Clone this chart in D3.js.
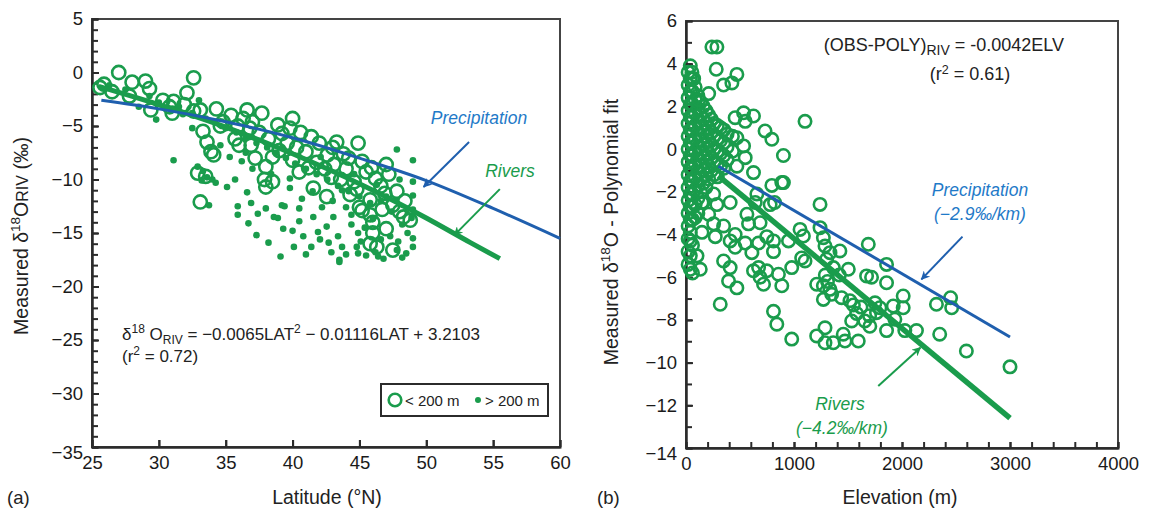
<!DOCTYPE html>
<html><head><meta charset="utf-8">
<script src="https://cdn.jsdelivr.net/npm/d3@7"></script>
<style>
html,body{margin:0;padding:0;background:#fff;}
svg{display:block;font-family:"Liberation Sans",Arial,sans-serif;}
</style></head>
<body>
<script>
// ---------- Panel (a) data ----------
const latTicks = [25,30,35,40,45,50,55,60];
const latMinor = [30,35,40,45,50,55];
const d18Ticks = [5,0,-5,-10,-15,-20,-25,-30,-35];
const d18Minor = d3.range(-35,6,1);
// open circles: sites < 200 m  [latitude, d18O]
const lowSites = [
 [25.9,-1.1],[25.6,-1.4],[27.0,0.0],[28.0,-0.9],[29.0,-0.8],[29.3,-1.5],[30.3,-2.6],[31.1,-2.7],
 [31.9,-3.0],[32.6,-0.5],[32.1,-1.9],[29.4,-3.5],[31.0,-3.8],[33.1,-3.5],[34.3,-3.4],[35.4,-4.0],
 [36.6,-3.5],[37.7,-3.8],[38.9,-4.9],[33.3,-5.5],[33.6,-6.5],[33.9,-7.4],[34.1,-7.7],[32.9,-9.4],
 [33.1,-12.1],[35.7,-6.2],[36.0,-6.8],[37.2,-8.0],[37.9,-10.0],[38.0,-10.7],[38.5,-7.9],
 [39.2,-5.7],[41.4,-6.0],[43.3,-6.5],[44.9,-6.6],[42.6,-7.7],[44.0,-9.0],[45.5,-9.3],[38.5,-10.2],
 [41.55,-10.8],[42.55,-11.6],[44.3,-11.4],[45.8,-11.9],[47.8,-11.1],[45.8,-13.3],[45.8,-16.0],
 [46.3,-16.3],[48.3,-13.5],[34.8,-4.6],[35.9,-5.0],[36.8,-5.2],[37.5,-5.6],[38.2,-6.2],[39.6,-6.6],
 [40.3,-7.0],[40.0,-8.2],[41.0,-7.4],[41.8,-8.4],[42.4,-9.0],[43.1,-8.6],[43.6,-10.0],[44.6,-10.2],
 [45.2,-8.3],[46.2,-9.9],[46.6,-10.6],[47.2,-9.5],[47.5,-12.4],[48.0,-13.0],[48.4,-12.0],[46.7,-12.8],
 [45.0,-12.6],[44.2,-8.0],[42.0,-6.6],[40.6,-5.6],[36.3,-4.3],[30.8,-3.2],[32.6,-3.6],[27.8,-2.2],
 [26.5,-1.8],[47.0,-14.6],[46.0,-15.0],[47.5,-16.6],[46.0,-14.0],[45.2,-12.9],[48.8,-13.8],[34.6,-5.0],
 [39.0,-7.3],[43.0,-7.0],[36.9,-6.8],[38.0,-8.8],[40.0,-4.3],[33.5,-9.7],[40.5,-9.3],[47.0,-8.6],
 [37.0,-4.6],[39.8,-5.2],[41.2,-8.9],[42.9,-9.8],[44.8,-10.9],[46.9,-11.3],[43.8,-7.6],[45.9,-8.9]
];
// filled dots: sites > 200 m  [latitude, d18O]
const highSites = [
 [31.1,-8.2],[35.1,-10.7],[35.7,-10.0],[36.6,-11.2],[36.9,-12.2],[35.9,-12.5],[35.9,-13.3],[36.7,-14.1],
 [37.4,-13.2],[38.0,-12.7],[38.9,-13.6],[39.2,-12.4],[33.75,-12.4],[34.25,-10.3],[32.9,-8.8],[33.3,-9.2],
 [33.6,-9.8],[34.0,-10.0],[33.2,-10.1],[29.8,-4.4],[28.5,-3.2],
 [47.8,-7.2],[49.0,-8.2],[49.0,-10.2],[49.0,-11.5],[49.0,-15.5],[49.0,-16.3],[39.8,-9.9],[39.8,-10.8],
 [38.6,-13.5],[39.4,-12.5],[39.3,-14.6],[40.1,-16.3],[40.8,-15.3],[41.55,-13.5],[42.55,-14.4],[43.05,-13.5],
 [43.4,-15.3],[43.7,-16.3],[44.4,-13.3],[44.4,-14.2],[44.8,-16.3],[43.5,-17.5],[42.05,-15.6],[41.4,-16.3],
 [39.1,-17.2],[47.8,-16.6],[47.3,-15.3],[48.5,-16.9],
 [30.0,-2.8],[31.5,-3.2],[32.5,-3.8],[33.5,-4.3],[34.2,-4.6],[35.0,-5.2],[35.8,-5.6],[36.5,-6.1],
 [37.3,-6.6],[38.1,-7.0],[38.8,-7.5],[39.5,-8.0],[40.2,-8.5],[41.0,-9.0],[41.8,-9.5],[42.6,-10.0],
 [43.4,-10.6],[44.2,-11.1],[45.0,-11.6],[45.8,-12.2],[46.6,-12.0],[47.4,-13.0],[48.2,-14.2],[48.9,-13.6],
 [36.2,-8.3],[37.0,-9.0],[38.4,-9.5],[40.7,-11.8],[41.5,-11.1],[42.2,-12.6],[43.0,-12.0],[44.0,-12.6],
 [46.0,-13.7],[45.4,-14.5],[46.6,-15.6],[44.9,-15.0],[42.9,-16.8],[41.0,-17.0],[45.5,-17.1],[46.8,-17.4],
 [48.2,-17.3],[38.2,-15.9],[37.3,-15.2],[40.5,-13.9],[43.7,-11.0],[42.1,-7.9],[44.6,-9.5],[46.3,-10.5],
 [47.0,-11.6],[48.0,-10.0],[49.0,-12.8],[32.5,-5.2],[34.6,-6.8],[35.3,-7.9],[36.5,-7.5],[31.8,-3.9],
 [33.0,-2.6],[29.3,-2.2],[27.5,-1.6],[26.3,-1.2],[43.5,-17.7],[40.0,-14.8],[44.0,-17.0],[46.2,-16.8],
 [41.9,-14.9],[42.7,-15.9],[45.1,-15.8],[47.9,-15.8],[48.6,-15.0],[46.4,-17.2],[44.9,-16.9],[40.5,-12.7]
];
const precipLineA = [[25.7,-2.6],[30,-3.4],[35,-4.6],[40,-6.1],[45,-8.0],[50,-10.1],[55,-12.7],[60,-15.5]];
const riverLineA = [[25.5,-1.3],[30,-3.0],[35,-5.1],[40,-7.6],[45,-10.4],[50,-13.6],[53.3,-15.9],[55.5,-17.4]];

// ---------- Panel (b) data ----------
const elevTicks = [0,1000,2000,3000,4000];
const elevMinor = d3.range(200,4000,200);
const residTicks = [6,4,2,0,-2,-4,-6,-8,-10,-12,-14];
const residMinor = d3.range(-13,6,1);
// dense low-elevation cluster [elevation m, residual]
const clusterSites = [
 [20,3.6],[20,3.0],[20,2.4],[20,1.8],[20,1.2],[20,0.6],[20,0.0],[20,-0.6],[20,-1.2],[20,-1.8],[20,-2.4],[20,-3.0],[20,-3.6],[20,-4.2],[20,-4.8],[20,-5.4],
 [40,3.9],[40,3.3],[40,2.7],[40,2.1],[40,1.5],[40,0.9],[40,0.3],[40,-0.3],[40,-0.9],[40,-1.5],[40,-2.1],[40,-2.7],[40,-3.3],[40,-3.9],[40,-4.3],[40,-5.0],
 [60,3.3],[60,2.7],[60,2.1],[60,1.5],[60,0.9],[60,0.3],[60,-0.3],[60,-0.9],[60,-1.5],[60,-2.1],[60,-2.7],[60,-3.3],[60,-4.5],[60,-5.8],
 [85,2.9],[85,2.3],[85,1.7],[85,1.1],[85,0.5],[85,-0.1],[85,-0.7],[85,-1.3],[85,-1.9],[85,-2.6],
 [110,2.5],[110,1.9],[110,1.3],[110,0.7],[110,0.1],[110,-0.5],[110,-1.1],[110,-1.7],[110,-2.3],[110,-3.0],
 [135,2.2],[135,1.6],[135,1.0],[135,0.4],[135,-0.2],[135,-0.8],[135,-1.4],[135,-2.0],
 [160,2.0],[160,1.4],[160,0.8],[160,0.2],[160,-0.4],[160,-1.0],[160,-1.6],[160,-2.5],
 [185,1.8],[185,1.2],[185,0.6],[185,0.0],[185,-0.6],[185,-1.2],[185,-1.8],
 [210,1.6],[210,1.0],[210,0.4],[210,-0.2],[210,-0.8],[210,-1.4],
 [235,1.4],[235,0.8],[235,0.2],[235,-0.4],[235,-1.0],
 [260,1.2],[260,0.6],[260,0.0],[260,-0.6],[260,-1.2],
 [290,1.1],[290,0.5],[290,-0.1],[290,-0.7],[290,-1.3],
 [320,1.0],[320,0.4],[320,-0.2],[320,-0.8],
 [350,0.9],[350,0.3],[350,-0.3],[350,-0.9],
 [380,0.7],[380,0.1],[380,-0.5],[430,0.6],[430,-0.1]
];
const residSites = [
 [240,4.78],[286,4.78],[280,3.74],[471,3.5],[425,3.1],[348,3.0],[210,2.6],[55,3.6],[71,3.3],[117,2.3],
 [533,1.7],[625,1.55],[455,1.47],[548,1.3],[1102,1.3],[732,0.85],[795,0.46],[902,-0.3],[471,0.53],
 [533,0.15],[548,-0.4],[471,-0.8],[625,-1.1],[902,-1.57],[795,-1.7],
 [1241,-2.59],[887,-1.57],[779,-2.6],[820,-2.5],[656,-2.1],[641,-2.5],[409,-2.5],[256,-2.1],[286,-2.6],
 [148,-2.5],[210,-3.05],[86,-3.2],[256,-3.5],[348,-3.6],[148,-3.9],[271,-4.1],[564,-3.05],[579,-3.5],
 [686,-3.45],[455,-4.0],[409,-4.3],[455,-4.6],[548,-4.4],[672,-4.4],[748,-4.1],[810,-4.3],[810,-4.8],
 [610,-4.85],[949,-4.3],[1056,-3.76],[1087,-4.07],[1071,-5.1],[1102,-5.24],[979,-5.55],[1241,-3.68],
 [1272,-4.15],[1287,-4.54],[1333,-4.85],[1425,-4.77],[1302,-5.16],[1364,-5.55],[1503,-5.63],[1688,-4.46],
 [1857,-5.4],[1672,-5.94],[1718,-6.0],[1857,-6.26],[1210,-6.33],[1272,-6.4],[1333,-6.57],[1272,-7.04],
 [1349,-6.8],[1441,-6.96],[1518,-7.1],[1580,-7.7],[1534,-8.05],[1656,-8.05],[1702,-8.3],[1764,-7.66],
 [1795,-7.43],[1919,-7.35],[2011,-6.88],[2011,-7.43],[1934,-7.97],[1857,-8.5],[2026,-8.5],[2134,-8.5],
 [2319,-7.27],[2450,-6.96],[2460,-7.43],[2349,-8.67],[2596,-9.46],[3000,-10.2],[810,-7.6],[841,-8.2],
 [979,-8.9],[1210,-8.75],[1287,-8.37],[1287,-9.07],[1364,-9.07],[1456,-8.67],[1472,-8.99],[1595,-8.99],
 [317,-7.27],[102,-5.0],[132,-5.63],[40,-5.63],[348,-5.24],[394,-6.18],[471,-6.5],[409,-5.55],[672,-5.55],
 [686,-6.0],[718,-6.33],[887,-6.4],[856,-5.86],[625,-5.7],[748,-5.7],[1290,-5.9],[1310,-6.2],[1420,-5.9],
 [1620,-7.4],[1700,-7.8],[1750,-7.2],[1550,-7.3]
];
const precipLineB = [[300,-0.8],[3000,-8.8]];
const riverLineB = [[300,-1.25],[3000,-12.6]];

// ---------- drawing ----------
const W = 1155, H = 508;
const GREEN = "#1a9c4c", BLUE = "#1f5fae", BLUE_T = "#1f7ac8", AX = "#2b2b2b";
const TICK_FS = 18.5, TITLE_FS = 19.5;
const svg = d3.select("body").append("svg").attr("width", W).attr("height", H);

const defs = svg.append("defs");
[["arrB", BLUE], ["arrG", GREEN]].forEach(([id, c]) => {
  defs.append("marker").attr("id", id).attr("viewBox", "0 0 10 10")
    .attr("refX", 9).attr("refY", 5).attr("markerWidth", 11).attr("markerHeight", 9)
    .attr("markerUnits", "userSpaceOnUse").attr("orient", "auto")
    .append("path").attr("d", "M0,0 L10,5 L0,10 L3,5 z").attr("fill", c);
});

function styleAxis(g) {
  g.selectAll(".domain").attr("stroke", AX).attr("stroke-width", 2);
  g.selectAll(".tick line").attr("stroke", AX).attr("stroke-width", 2);
  g.selectAll(".tick text").attr("font-size", TICK_FS).attr("fill", "#1a1a1a")
    .attr("font-family", "'Liberation Sans', Arial, sans-serif");
}

function panel(x, y, opt) {
  const g = svg.append("g");
  const [x0, x1] = x.range(), [y0, y1] = y.range();
  g.append("rect").attr("x", x0).attr("y", y1).attr("width", x1 - x0).attr("height", y0 - y1)
    .attr("fill", "none").attr("stroke", "#444").attr("stroke-width", 2);
  const gxm = g.append("g").attr("transform", `translate(0,${y0})`)
    .call(d3.axisBottom(x).tickValues(opt.xMinor).tickSize(-opt.xTickLen).tickFormat(""));
  styleAxis(gxm);
  const gym = g.append("g").attr("transform", `translate(${x0},0)`)
    .call(d3.axisLeft(y).tickValues(opt.yMinor).tickSize(-6).tickFormat(""));
  styleAxis(gym);
  const gx = g.append("g").attr("transform", `translate(0,${y0})`)
    .call(d3.axisBottom(x).tickValues(opt.xTicks).tickSize(-opt.xTickLen).tickPadding(9)
      .tickSizeOuter(0).tickFormat(d3.format("d")));
  styleAxis(gx);
  const gy = g.append("g").attr("transform", `translate(${x0},0)`)
    .call(d3.axisLeft(y).tickValues(opt.yTicks).tickSize(-7).tickPadding(9).tickSizeOuter(0)
      .tickFormat(d => d3.format("d")(d)));
  styleAxis(gy);
  gy.selectAll(".tick text").filter(d => d === y.domain()[0]).attr("dy", "0.62em");
  return g;
}

// ----- Panel (a)
const xA = d3.scaleLinear().domain([25, 60]).range([92, 560]);
const yA = d3.scaleLinear().domain([-35, 5]).range([447, 19]);
panel(xA, yA, {xTicks: latTicks, xMinor: latMinor, yTicks: d18Ticks, yMinor: d18Minor, xTickLen: 7});

const gA = svg.append("g");
gA.selectAll("circle.low").data(lowSites).join("circle")
  .attr("cx", d => xA(d[0])).attr("cy", d => yA(d[1])).attr("r", 6.6)
  .attr("fill", "none").attr("stroke", GREEN).attr("stroke-width", 2.6);
gA.selectAll("circle.high").data(highSites).join("circle")
  .attr("cx", d => xA(d[0])).attr("cy", d => yA(d[1])).attr("r", 3.3)
  .attr("fill", GREEN);
const lineA = d3.line().x(d => xA(d[0])).y(d => yA(d[1])).curve(d3.curveMonotoneX);
gA.append("path").datum(riverLineA).attr("d", lineA).attr("fill", "none").attr("stroke", GREEN).attr("stroke-width", 5);
gA.append("path").datum(precipLineA).attr("d", lineA).attr("fill", "none").attr("stroke", BLUE).attr("stroke-width", 3);

gA.append("text").attr("x", 479).attr("y", 124).attr("text-anchor", "middle").attr("font-size", 17.5)
  .attr("font-style", "italic").attr("fill", BLUE_T).text("Precipitation");
gA.append("line").attr("x1", xA(53.2)).attr("y1", yA(-6.5)).attr("x2", xA(49.8)).attr("y2", yA(-10.7))
  .attr("stroke", BLUE).attr("stroke-width", 2).attr("marker-end", "url(#arrB)");
gA.append("text").attr("x", 510).attr("y", 177).attr("text-anchor", "middle").attr("font-size", 17.5)
  .attr("font-style", "italic").attr("fill", GREEN).text("Rivers");
gA.append("line").attr("x1", xA(55.5)).attr("y1", yA(-10.9)).attr("x2", xA(52.1)).attr("y2", yA(-15.2))
  .attr("stroke", GREEN).attr("stroke-width", 2).attr("marker-end", "url(#arrG)");

const eqA = gA.append("text").attr("x", 122).attr("y", 340).attr("font-size", 17).attr("fill", "#222");
eqA.append("tspan").text("δ");
eqA.append("tspan").attr("dy", -7).attr("font-size", 12).text("18");
eqA.append("tspan").attr("dy", 7).text(" O");
eqA.append("tspan").attr("dy", 4).attr("font-size", 12).text("RIV");
eqA.append("tspan").attr("dy", -4).text(" = −0.0065LAT");
eqA.append("tspan").attr("dy", -7).attr("font-size", 12).text("2");
eqA.append("tspan").attr("dy", 7).text(" − 0.01116LAT + 3.2103");
const r2A = gA.append("text").attr("x", 122).attr("y", 362).attr("font-size", 17).attr("fill", "#222");
r2A.append("tspan").text("(r");
r2A.append("tspan").attr("dy", -7).attr("font-size", 12).text("2");
r2A.append("tspan").attr("dy", 7).text(" = 0.72)");

// legend
const lg = gA.append("g");
lg.append("rect").attr("x", 381).attr("y", 384).attr("width", 167).attr("height", 32)
  .attr("fill", "#fff").attr("stroke", AX).attr("stroke-width", 2);
lg.append("circle").attr("cx", 395).attr("cy", 400).attr("r", 6.3).attr("fill", "none").attr("stroke", GREEN).attr("stroke-width", 2.6);
lg.append("text").attr("x", 405).attr("y", 405.5).attr("font-size", 15).attr("fill", "#222").text("< 200 m");
lg.append("circle").attr("cx", 478).attr("cy", 400).attr("r", 3).attr("fill", GREEN);
lg.append("text").attr("x", 485).attr("y", 405.5).attr("font-size", 15).attr("fill", "#222").text("> 200 m");

// axis titles (a)
svg.append("text").attr("x", 327).attr("y", 504).attr("text-anchor", "middle").attr("font-size", TITLE_FS).attr("fill", "#222").text("Latitude (°N)");
svg.append("text").attr("x", 7).attr("y", 504).attr("font-size", 18.5).attr("fill", "#222").text("(a)");
const ylA = svg.append("text").attr("transform", "translate(28,236) rotate(-90)").attr("text-anchor", "middle")
  .attr("font-size", TITLE_FS).attr("fill", "#222");
ylA.append("tspan").text("Measured δ");
ylA.append("tspan").attr("dy", -8).attr("font-size", 13.5).text("18");
ylA.append("tspan").attr("dy", 8).text("O");
ylA.append("tspan").attr("font-size", 16).text("RIV");
ylA.append("tspan").text(" (‰)");

// ----- Panel (b)
const xB = d3.scaleLinear().domain([0, 4000]).range([686, 1118]);
const yB = d3.scaleLinear().domain([-14, 6]).range([448, 21]);
panel(xB, yB, {xTicks: elevTicks, xMinor: elevMinor, yTicks: residTicks, yMinor: residMinor, xTickLen: 6});

const gB = svg.append("g");
gB.selectAll("circle.cl").data(clusterSites.concat(residSites)).join("circle")
  .attr("cx", d => xB(d[0])).attr("cy", d => yB(d[1])).attr("r", 6.2)
  .attr("fill", "none").attr("stroke", GREEN).attr("stroke-width", 2.6);
const lineB = d3.line().x(d => xB(d[0])).y(d => yB(d[1]));
gB.append("path").datum(riverLineB).attr("d", lineB).attr("fill", "none").attr("stroke", GREEN).attr("stroke-width", 5.5);
gB.append("path").datum(precipLineB).attr("d", lineB).attr("fill", "none").attr("stroke", BLUE).attr("stroke-width", 3);

gB.append("text").attr("x", 980).attr("y", 196).attr("text-anchor", "middle").attr("font-size", 17.5)
  .attr("font-style", "italic").attr("fill", BLUE_T).text("Precipitation");
gB.append("text").attr("x", 980).attr("y", 220).attr("text-anchor", "middle").attr("font-size", 17.5)
  .attr("font-style", "italic").attr("fill", BLUE_T).text("(−2.9‰/km)");
gB.append("line").attr("x1", xB(2560)).attr("y1", yB(-4.1)).attr("x2", xB(2180)).attr("y2", yB(-6.1))
  .attr("stroke", BLUE).attr("stroke-width", 2).attr("marker-end", "url(#arrB)");
gB.append("text").attr("x", 840).attr("y", 410).attr("text-anchor", "middle").attr("font-size", 17.5)
  .attr("font-style", "italic").attr("fill", GREEN).text("Rivers");
gB.append("text").attr("x", 842).attr("y", 434).attr("text-anchor", "middle").attr("font-size", 17.5)
  .attr("font-style", "italic").attr("fill", GREEN).text("(−4.2‰/km)");
gB.append("line").attr("x1", xB(1780)).attr("y1", yB(-11.1)).attr("x2", xB(2170)).attr("y2", yB(-9.3))
  .attr("stroke", GREEN).attr("stroke-width", 2).attr("marker-end", "url(#arrG)");

const eqB = gB.append("text").attr("x", 1064).attr("y", 51).attr("text-anchor", "end").attr("font-size", 18).attr("fill", "#222");
eqB.append("tspan").text("(OBS-POLY)");
eqB.append("tspan").attr("dy", 4).attr("font-size", 14).text("RIV");
eqB.append("tspan").attr("dy", -4).text(" = -0.0042ELV");
const r2B = gB.append("text").attr("x", 970).attr("y", 80).attr("text-anchor", "middle").attr("font-size", 18).attr("fill", "#222");
r2B.append("tspan").text("(r");
r2B.append("tspan").attr("dy", -6).attr("font-size", 12.5).text("2");
r2B.append("tspan").attr("dy", 6).text("  = 0.61)");

svg.append("text").attr("x", 900).attr("y", 504).attr("text-anchor", "middle").attr("font-size", TITLE_FS).attr("fill", "#222").text("Elevation (m)");
svg.append("text").attr("x", 597).attr("y", 504).attr("font-size", 18.5).attr("fill", "#222").text("(b)");
const ylB = svg.append("text").attr("transform", "translate(618,232) rotate(-90)").attr("text-anchor", "middle")
  .attr("font-size", TITLE_FS).attr("fill", "#222");
ylB.append("tspan").text("Measured δ");
ylB.append("tspan").attr("dy", -8).attr("font-size", 13.5).text("18");
ylB.append("tspan").attr("dy", 8).text("O - Polynomial fit");
</script>
</body></html>
